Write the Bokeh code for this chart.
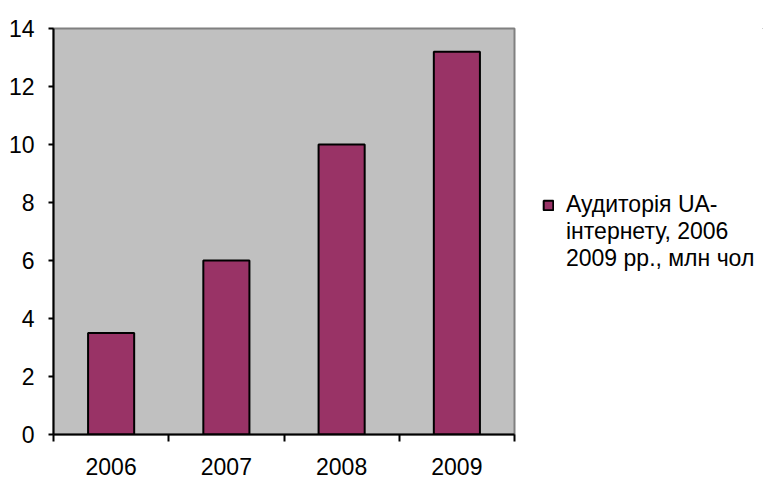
from bokeh.plotting import figure
from bokeh.layouts import row
from bokeh.models import FixedTicker, Range1d, Legend, LegendItem, ColumnDataSource
from bokeh.embed import file_html
from bokeh.resources import INLINE

years = [2006, 2007, 2008, 2009]
audience = [3.5, 6.0, 10.0, 13.2]
y_ticks = [0, 2, 4, 6, 8, 10, 12, 14]
legend_lines = ["Аудиторія UA-", "інтернету, 2006", "2009 рр., млн чол"]

FONT = "Liberation Sans"
BAR_COLOR = "#993366"

src = ColumnDataSource(dict(x=years, top=audience))

p = figure(width=516, height=478, output_backend="svg", toolbar_location=None,
           x_range=Range1d(years[0] - 0.5, years[-1] + 0.5),
           y_range=Range1d(0, 14),
           min_border_left=53, min_border_right=2,
           min_border_top=28, min_border_bottom=44)
p.border_fill_color = "white"
p.background_fill_color = "#C0C0C0"
p.outline_line_color = "#808080"
p.outline_line_width = 2
p.xgrid.visible = False
p.ygrid.visible = False

r = p.vbar(x="x", top="top", width=0.4, source=src,
           fill_color=BAR_COLOR, line_color="black", line_width=2)

p.xaxis.ticker = FixedTicker(ticks=years, minor_ticks=[y - 0.5 for y in years] + [years[-1] + 0.5])
p.xaxis.major_tick_line_color = None
p.xaxis.minor_tick_line_color = "black"
p.xaxis.minor_tick_line_width = 2
p.xaxis.minor_tick_out = 7
p.xaxis.minor_tick_in = 0
p.xaxis.major_label_standoff = 16

p.yaxis.ticker = FixedTicker(ticks=y_ticks, minor_ticks=[])
p.yaxis.major_tick_out = 5
p.yaxis.major_tick_in = 0
p.yaxis.major_tick_line_width = 2
p.yaxis.major_label_standoff = 14

for ax in (p.xaxis, p.yaxis):
    ax.axis_line_color = "black"
    ax.axis_line_width = 2
    ax.major_label_text_font = FONT
    ax.major_label_text_font_size = "23px"
    ax.major_label_text_color = "black"

# legend panel as a separate, axis-less figure
lg = figure(width=247, height=478, output_backend="svg", toolbar_location=None,
            x_range=Range1d(0, 1), y_range=Range1d(0, 1),
            min_border_left=0, min_border_right=0,
            min_border_top=0, min_border_bottom=0)
lg.axis.visible = False
lg.xgrid.visible = False
lg.ygrid.visible = False
lg.outline_line_color = None
lg.background_fill_color = "white"
lg.border_fill_color = "white"

# key renderers: same style as the bars, data kept outside the visible range
r_key = lg.vbar(x=[5], top=[5], bottom=[4], width=0.4, fill_color=BAR_COLOR,
                line_color="black", line_width=2)
r_blank = lg.vbar(x=[5], top=[5], bottom=[4], width=0.4, fill_alpha=0, line_alpha=0)

items = [LegendItem(label=legend_lines[0], renderers=[r_key])]
for t in legend_lines[1:]:
    items.append(LegendItem(label=t, renderers=[r_blank]))

legend = Legend(items=items, location=(26, 162), orientation="vertical",
                border_line_color=None, background_fill_alpha=0,
                padding=0, margin=0, spacing=0,
                glyph_width=12, glyph_height=12, label_standoff=12,
                label_height=26,
                label_text_font=FONT, label_text_font_size="23px",
                label_text_color="black")
lg.add_layout(legend, "center")

layout = row(p, lg, spacing=0)
open("out.html", "w").write(file_html(layout, INLINE))
